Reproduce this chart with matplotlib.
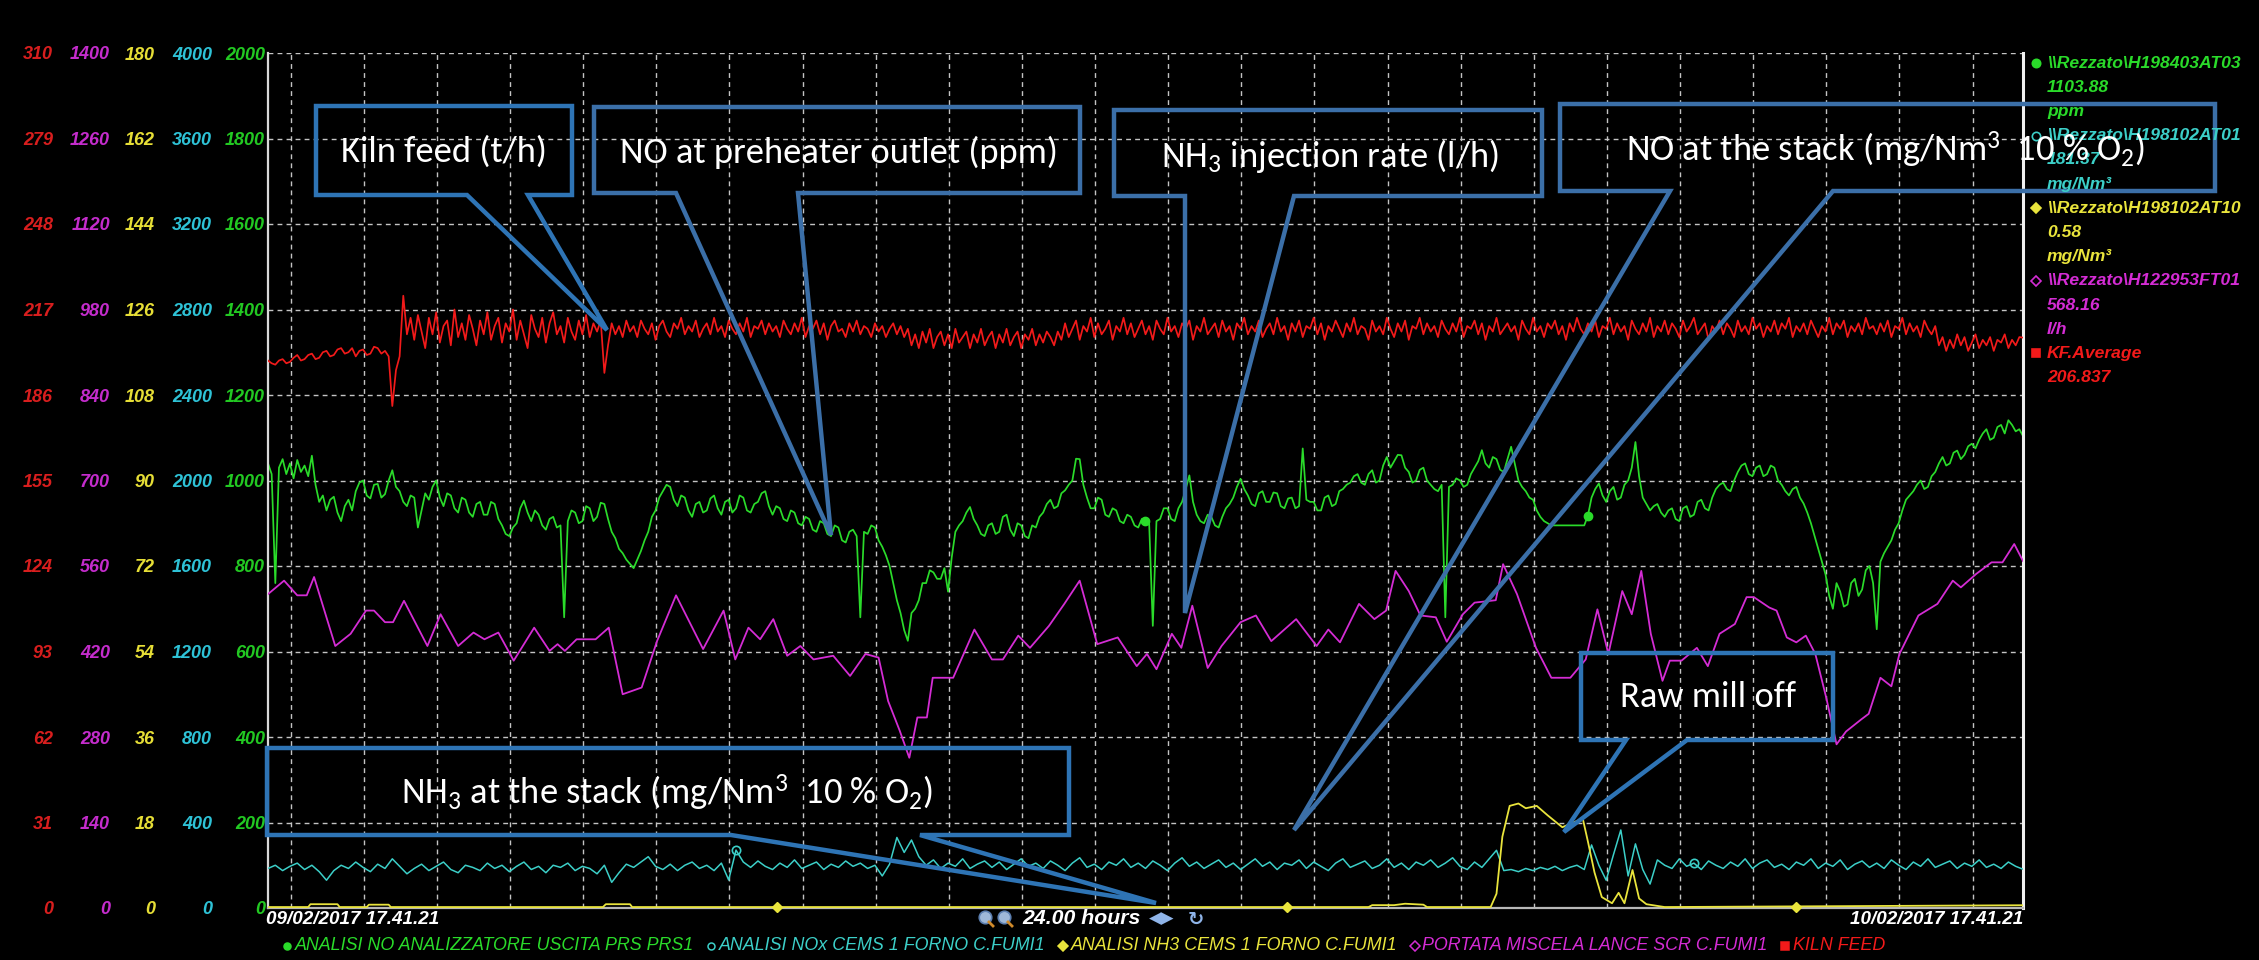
import numpy as np
import matplotlib
matplotlib.use('Agg')
import matplotlib.pyplot as plt
from matplotlib import font_manager
from matplotlib.patches import Polygon

# ---------------- data (hours after 09/02/2017 17.41.21) ----------------
hours = np.round(np.arange(0, 241) * 0.1, 1)        # 6-minute samples
hours_fine = np.round(np.arange(0, 481) * 0.05, 2)  # 3-minute samples

# NO at preheater outlet (ppm), 3-min samples, one row per hour
no_ppm = [
    1040, 1015, 760, 1030, 1050, 1015, 1040, 1005, 1048, 1020, 1035, 1010, 1058, 990, 950, 965, 930, 955, 962, 925,
    905, 940, 955, 930, 975, 995, 1000, 965, 958, 990, 992, 960, 968, 1000, 1024, 985, 975, 950, 940, 965,
    960, 890, 930, 970, 955, 985, 1000, 960, 940, 970, 965, 935, 925, 960, 955, 925, 915, 945, 950, 920,
    920, 950, 945, 910, 895, 875, 870, 890, 900, 935, 953, 925, 905, 930, 920, 895, 885, 910, 915, 890,
    895, 680, 905, 930, 925, 900, 905, 940, 935, 905, 915, 948, 945, 910, 880, 865, 840, 830, 815, 805,
    795, 815, 835, 860, 880, 915, 930, 960, 975, 990, 985, 955, 940, 965, 960, 930, 915, 945, 950, 925,
    930, 958, 965, 935, 920, 950, 955, 925, 935, 965, 960, 930, 925, 945, 950, 970, 975, 940, 920, 940,
    935, 910, 905, 930, 925, 900, 895, 915, 910, 885, 880, 905, 900, 875, 870, 895, 890, 860, 855, 880,
    885, 870, 680, 880, 875, 895, 890, 860, 845, 825, 800, 760, 720, 690, 650, 625, 690, 700, 720, 760,
    760, 790, 785, 770, 770, 795, 740, 820, 880, 895, 905, 925, 938, 910, 895, 875, 870, 895, 900, 875,
    880, 915, 920, 885, 870, 900, 895, 870, 865, 895, 890, 915, 925, 945, 955, 935, 940, 970, 977, 990,
    1000, 1051, 1050, 990, 960, 935, 935, 960, 955, 920, 915, 935, 930, 905, 900, 920, 915, 895, 890, 910,
    905, 900, 660, 905, 910, 935, 935, 910, 905, 935, 950, 980, 1012, 950, 920, 905, 900, 920, 915, 895,
    890, 915, 935, 945, 960, 985, 1004, 980, 965, 945, 940, 970, 975, 950, 950, 972, 970, 940, 935, 958,
    960, 935, 940, 1075, 955, 950, 950, 930, 930, 960, 965, 940, 945, 975, 980, 990, 995, 1010, 1015, 995,
    990, 1015, 1024, 995, 1000, 1035, 1055, 1030, 1045, 1060, 1059, 1030, 1020, 995, 1000, 1025, 1030, 1000, 990, 980,
    975, 990, 680, 985, 990, 1005, 1000, 985, 990, 1015, 1030, 1045, 1071, 1040, 1030, 1055, 1050, 1025, 1020, 1050,
    1079, 1040, 1000, 985, 975, 960, 955, 930, 915, 905, 900, 895, 895, 895, 895, 895, 895, 895, 895, 895,
    895, 918, 960, 980, 993, 965, 950, 975, 985, 955, 960, 990, 1000, 1030, 1090, 1010, 960, 945, 930, 940,
    945, 925, 915, 930, 935, 910, 905, 935, 940, 915, 920, 950, 955, 935, 930, 960, 980, 990, 995, 980,
    975, 1000, 1020, 1035, 1040, 1015, 1010, 1030, 1035, 1010, 1015, 1035, 1030, 1000, 990, 975, 965, 980, 985, 960,
    946, 925, 900, 870, 840, 810, 780, 730, 700, 760, 740, 705, 710, 760, 770, 730, 745, 790, 800, 760,
    652, 810, 830, 845, 860, 885, 900, 930, 955, 965, 975, 990, 1000, 980, 985, 1010, 1020, 1040, 1055, 1035,
    1040, 1065, 1070, 1050, 1060, 1080, 1086, 1075, 1095, 1110, 1120, 1095, 1100, 1125, 1130, 1110, 1141, 1130, 1115, 1120,
    1104]

# kiln feed (t/h), 3-min samples, one row per hour
kiln_feed = [
    198.5, 197.5, 197.0, 198.5, 199.0, 197.5, 198.0, 199.5, 200.5, 198.5, 199.0, 200.5, 201.0, 199.0, 199.5, 201.5, 202.0, 200.0, 200.5, 202.5,
    203.0, 201.0, 201.5, 203.0, 200.0, 202.0, 202.5, 200.5, 201.0, 203.5, 203.0, 201.0, 202.0, 200.0, 182.0, 195.0, 200.0, 222.0, 208.0, 214.0,
    206, 215, 209, 203, 214, 208, 216, 205, 211, 213, 204, 217, 207, 212, 206, 215, 210, 204, 213, 208,
    216, 206, 211, 214, 205, 212, 209, 217, 206, 213, 208, 203, 215, 210, 207, 214, 205, 212, 216, 208,
    211, 205, 214, 209, 206, 213, 208, 215, 207, 212, 209, 213, 194, 204, 212, 208, 211, 207, 213, 209,
    211, 207, 213, 210, 208, 212, 206, 211, 213, 209, 207, 212, 210, 214, 208, 211, 209, 213, 207, 210,
    212, 208, 214, 209, 211, 207, 213, 210, 208, 212, 209, 214, 207, 211, 210, 213, 208, 212, 209, 211,
    207, 213, 210, 208, 212, 209, 214, 207, 211, 210, 213, 208, 212, 206, 211, 213, 209, 210, 207, 212,
    209, 213, 208, 211, 210, 207, 212, 209, 211, 207, 210, 212, 208, 211, 207, 210, 204, 208, 203, 209,
    205, 210, 203, 207, 209, 204, 208, 203, 210, 205, 207, 209, 203, 208, 205, 210, 204, 207, 209, 203,
    208, 205, 210, 204, 207, 209, 203, 208, 206, 210, 204, 208, 205, 209, 207, 204, 209, 206, 212, 207,
    210, 213, 206, 211, 209, 214, 207, 212, 208, 210, 213, 206, 211, 209, 214, 208, 212, 207, 210, 213,
    208, 211, 206, 213, 210, 208, 214, 209, 211, 207, 212, 210, 213, 206, 211, 209, 214, 208, 210, 212,
    207, 213, 209, 211, 206, 212, 210, 214, 208, 211, 209, 213, 207, 210, 212, 208, 214, 209, 211, 206,
    212, 209, 213, 207, 211, 210, 214, 208, 212, 206, 211, 209, 213, 210, 207, 212, 209, 214, 208, 211,
    210, 206, 213, 209, 211, 208, 214, 210, 207, 212, 209, 213, 206, 211, 210, 214, 208, 212, 209, 211,
    207, 213, 210, 208, 212, 209, 214, 207, 211, 210, 213, 208, 212, 206, 211, 209, 214, 208, 210, 212,
    209, 211, 206, 213, 210, 208, 214, 209, 211, 207, 212, 210, 213, 208, 211, 206, 212, 209, 214, 210,
    208, 212, 209, 213, 207, 211, 210, 214, 208, 212, 209, 211, 206, 213, 210, 208, 212, 209, 214, 207,
    211, 209, 213, 208, 212, 210, 207, 213, 209, 211, 214, 208, 210, 212, 206, 211, 209, 213, 208, 212,
    210, 207, 213, 209, 211, 208, 214, 210, 212, 207, 211, 209, 213, 208, 212, 210, 214, 207, 211, 209,
    212, 208, 213, 210, 207, 211, 209, 214, 208, 212, 210, 213, 207, 211, 209, 212, 208, 214, 210, 211,
    208, 212, 209, 213, 207, 211, 210, 214, 208, 212, 209, 211, 207, 213, 210, 208, 211, 204, 207, 202,
    206, 203, 208, 204, 207, 202, 205, 208, 203, 206, 204, 207, 202, 206, 205, 208, 203, 206, 204, 207,
    206.8]

# NOx at the stack (mg/Nm3), 6-min samples, one row per hour
nox_stack = [
    185, 200, 175, 195, 210, 180, 200, 170, 130, 175,
    200, 185, 215, 190, 170, 205, 185, 230, 195, 160,
    185, 205, 175, 195, 215, 180, 165, 200, 190, 175,
    210, 185, 200, 170, 195, 215, 180, 195, 165, 200,
    190, 210, 175, 195, 185, 160, 200, 120, 165, 205,
    190, 215, 240, 195, 180, 205, 175, 200, 215, 185,
    200, 175, 210, 131, 271, 215, 190, 220, 195, 180,
    210, 190, 225, 185, 200, 215, 180, 205, 190, 220,
    195, 210, 185, 200, 150, 205, 330, 260, 318, 240,
    200, 225, 185, 210, 195, 230, 185, 205, 220, 190,
    215, 180, 205, 230, 195, 210, 185, 220, 200, 175,
    210, 235, 190, 205, 180, 215, 200, 230, 190, 210,
    185, 220, 200, 175, 210, 235, 195, 215, 185, 205,
    225, 190, 210, 180, 205, 230, 195, 215, 180, 210,
    200, 225, 185, 215, 195, 175, 210, 230, 190, 205,
    220, 185, 200, 230, 190, 210, 180, 215, 200, 225,
    190, 210, 235, 195, 180, 215, 190, 230, 270, 175,
    180, 170, 185, 175, 190, 180, 195, 175, 190, 200,
    180, 295, 200, 130, 250, 365, 150, 300, 180, 112,
    225, 200, 185, 230, 195, 210, 180, 220, 200, 185,
    215, 195, 230, 185, 210, 225, 190, 205, 180, 215,
    200, 230, 185, 210, 195, 225, 180, 205, 220, 190,
    210, 185, 225, 200, 180, 215, 195, 230, 190, 205,
    220, 185, 210, 195, 225, 190, 205, 185, 215, 195,
    181.37]

nh3_time = [0.0, 0.55, 0.58, 0.95, 0.98, 1.35, 1.38, 1.65, 1.68, 4.58,
            4.62, 4.95, 4.98, 15.05, 15.1, 15.4, 15.55, 15.8, 15.85, 16.72,
            16.8, 16.88, 16.98, 17.1, 17.2, 17.35, 17.5, 17.7, 17.85, 17.98,
            18.05, 18.14, 18.24, 18.38, 18.47, 18.55, 18.66, 18.75, 18.85, 19.1,
            24.0]
nh3_stack = [0.2, 0.2, 0.8, 0.8, 0.2, 0.2, 0.7, 0.7, 0.2, 0.2,
             0.8, 0.8, 0.2, 0.2, 0.6, 0.6, 0.9, 0.7, 0.2, 0.2,
             3.0, 15.0, 21.5, 22.0, 21.0, 21.5, 19.5, 17.0, 18.0, 18.8,
             14.0, 7.5, 2.3, 1.0, 3.2, 1.0, 8.0, 2.0, 0.8, 0.2,
             0.58]

lance_time = [0.00, 0.22, 0.40, 0.53, 0.63, 0.92, 1.13, 1.34, 1.45, 1.60,
              1.71, 1.86, 2.18, 2.36, 2.60, 2.81, 2.96, 3.15, 3.36, 3.64,
              3.85, 3.96, 4.06, 4.22, 4.48, 4.66, 4.85, 5.11, 5.32, 5.58,
              5.95, 6.23, 6.39, 6.57, 6.73, 6.91, 7.10, 7.28, 7.46, 7.73,
              7.96, 8.17, 8.35, 8.48, 8.64, 8.77, 8.88, 9.01, 9.09, 9.37,
              9.66, 9.90, 10.05, 10.26, 10.42, 10.68, 10.89, 11.10, 11.34, 11.62,
              11.88, 12.02, 12.15, 12.36, 12.49, 12.64, 12.85, 13.04, 13.30, 13.51,
              13.72, 14.06, 14.34, 14.50, 14.66, 14.92, 15.13, 15.29, 15.42, 15.60,
              15.76, 15.97, 16.12, 16.34, 16.50, 16.79, 16.89, 17.08, 17.34, 17.55,
              17.81, 18.02, 18.18, 18.33, 18.52, 18.65, 18.78, 18.91, 19.07, 19.17,
              19.33, 19.54, 19.69, 19.85, 20.06, 20.22, 20.32, 20.53, 20.63, 20.77,
              20.90, 21.03, 21.16, 21.31, 21.45, 21.58, 21.79, 21.89, 22.05, 22.20,
              22.31, 22.57, 22.83, 23.04, 23.15, 23.36, 23.57, 23.72, 23.88, 24.00]
lance_flow = [514, 536, 512, 512, 542, 429, 449, 487, 487, 468,
              468, 503, 429, 481, 429, 451, 440, 451, 405, 459,
              421, 432, 421, 440, 440, 459, 350, 361, 437, 512,
              424, 487, 407, 459, 440, 473, 413, 429, 407, 413,
              380, 416, 410, 339, 290, 246, 312, 312, 377, 377,
              456, 407, 407, 446, 426, 462, 498, 536, 432, 443,
              396, 416, 391, 449, 426, 495, 393, 429, 468, 479,
              437, 473, 429, 456, 435, 498, 473, 487, 552, 519,
              479, 476, 436, 481, 500, 504, 563, 514, 426, 377,
              377, 407, 489, 416, 519, 481, 552, 449, 372, 405,
              405, 426, 396, 449, 465, 509, 509, 492, 487, 443,
              435, 446, 416, 344, 268, 289, 309, 318, 377, 363,
              416, 479, 498, 536, 525, 547, 566, 566, 596, 568.16]

# marker positions shown on the traces
no_marker_t, no_marker_v = [12.0, 18.05], [905, 918]
nox_marker_t, nox_marker_v = [6.4, 19.5], [271, 210]
nh3_marker_t, nh3_marker_v = [6.96, 13.93, 20.89], [0.2, 0.2, 0.2]

# axis scales / ticks
no_ticks = [0, 200, 400, 600, 800, 1000, 1200, 1400, 1600, 1800, 2000]
nox_ticks = [0, 400, 800, 1200, 1600, 2000, 2400, 2800, 3200, 3600, 4000]
nh3_ticks = [0, 18, 36, 54, 72, 90, 108, 126, 144, 162, 180]
lance_ticks = [0, 140, 280, 420, 560, 700, 840, 980, 1120, 1260, 1400]
kf_ticks = [0, 31, 62, 93, 124, 155, 186, 217, 248, 279, 310]
hour_lines = [0.3108 + k for k in range(24)]   # whole hours (18.00, 19.00, ...)

legend_names = ['ANALISI NO ANALIZZATORE USCITA PRS PRS1',
                'ANALISI NOx CEMS 1 FORNO C.FUMI1',
                'ANALISI NH3 CEMS 1 FORNO C.FUMI1',
                'PORTATA MISCELA LANCE SCR C.FUMI1',
                'KILN FEED']
tag_lines = [['\\\\Rezzato\\H198403AT03', '1103.88', 'ppm'],
             ['\\\\Rezzato\\H198102AT01', '181.37', 'mg/Nm\u00b3'],
             ['\\\\Rezzato\\H198102AT10', '0.58', 'mg/Nm\u00b3'],
             ['\\\\Rezzato\\H122953FT01', '568.16', 'l/h'],
             ['KF.Average', '206.837']]

# ---------------- styling ----------------
GREEN = '#2ADB2A'
CYAN = '#3CCFC8'
YELLOW = '#E9E43C'
MAGENTA = '#D42CD4'
RED = '#F21A1A'
LAB_COL = {'kf': '#D81E1E', 'lance': '#C42CCC', 'nh3': '#E6DE36', 'nox': '#2EC2D6', 'no': '#22C822'}
BLUE = '#3B6FA8'

names = {f.name for f in font_manager.fontManager.ttflist}
def pick(*cands):
    for c in cands:
        if c in names:
            return c
    return 'DejaVu Sans'
ARIAL = pick('Liberation Sans', 'Arial', 'DejaVu Sans')
NARROW = pick('Liberation Sans Narrow', 'Arial Narrow', 'Liberation Sans')
CALL = pick('Carlito', 'Calibri', 'Lato', 'Open Sans')
plt.rcParams['mathtext.fontset'] = 'custom'
plt.rcParams['mathtext.rm'] = CALL
plt.rcParams['mathtext.it'] = CALL + ':italic'
plt.rcParams['mathtext.bf'] = CALL + ':bold'

W, H = 2259, 960
fig = plt.figure(figsize=(W / 100, H / 100), dpi=100, facecolor='black')
X0, X1, Y0, Y1 = 268, 2023, 53, 908
ax = fig.add_axes([X0 / W, 1 - Y1 / H, (X1 - X0) / W, (Y1 - Y0) / H])
ax.set_facecolor('black')
ax.set_xlim(0, 24)
ax.set_xticks(hour_lines)
ax.tick_params(axis='x', length=0, labelbottom=False)
ax.grid(True, color='#C4C4C4', linestyle=(0, (3.5, 3)), linewidth=1.0)
ax.spines['top'].set_visible(False)
ax.spines['left'].set_color('#D8D8D8'); ax.spines['left'].set_linewidth(1.6)
ax.spines['right'].set_color('#F0F0F0'); ax.spines['right'].set_linewidth(2.2)
ax.spines['bottom'].set_color('#B8B8B8'); ax.spines['bottom'].set_linewidth(1.6)

def label_axis(a, ticks, right_edge, color):
    a.set_yticks(ticks)
    a.set_yticklabels([str(t) for t in ticks], fontstyle='italic', fontweight='bold',
                      family=ARIAL, fontsize=13, color=color)
    a.yaxis.tick_left()
    a.tick_params(axis='y', length=0, pad=(X0 - right_edge) * 72 / 100)

ax.set_ylim(0, 2000)
label_axis(ax, no_ticks, 265, LAB_COL['no'])

def twin(ymax, ticks, right_edge, color):
    a = ax.twinx()
    a.set_ylim(0, ymax)
    for s in a.spines.values():
        s.set_visible(False)
    label_axis(a, ticks, right_edge, color)
    a.set_xlim(0, 24)
    return a

ax_nox = twin(4000, nox_ticks, 212, LAB_COL['nox'])
ax_nh3 = twin(180, nh3_ticks, 155, LAB_COL['nh3'])
ax_lance = twin(1400, lance_ticks, 110, LAB_COL['lance'])
ax_kf = twin(310, kf_ticks, 53, LAB_COL['kf'])

ax_nh3.plot(nh3_time, nh3_stack, color=YELLOW, lw=1.3)
ax_nh3.plot(nh3_marker_t, nh3_marker_v, 'D', color=YELLOW, ms=5, clip_on=False)
ax_nox.plot(hours, nox_stack, color=CYAN, lw=1.1)
ax_nox.plot(nox_marker_t, nox_marker_v, 'o', mfc='none', mec=CYAN, ms=6, mew=1.2)
ax_lance.plot(lance_time, lance_flow, color=MAGENTA, lw=1.3)
ax.plot(hours_fine, no_ppm, color=GREEN, lw=1.25)
ax.plot(no_marker_t, no_marker_v, 'o', color=GREEN, ms=6)
ax_kf.plot(hours_fine, kiln_feed, color=RED, lw=1.25)

# ---------------- overlay in pixel coordinates ----------------
ov = fig.add_axes([0, 0, 1, 1], zorder=20)
ov.set_xlim(0, W); ov.set_ylim(H, 0); ov.axis('off')
rend = fig.canvas.get_renderer()

def tw(t):
    return t.get_window_extent(renderer=rend).width

def fit(t, target):
    t.set_fontsize(t.get_fontsize() * target / tw(t))
    return t

# right-hand tag list
tag_style = [('o', GREEN, GREEN), ('o', 'none', CYAN), ('D', YELLOW, YELLOW),
             ('D', 'none', MAGENTA), ('s', RED, RED)]
tag_cols = [GREEN, CYAN, YELLOW, MAGENTA, RED]
probe = ov.text(0, -100, tag_lines[0][0], fontsize=11, fontweight='bold',
                fontstyle='italic', family=ARIAL)
tag_fs = fit(probe, 193).get_fontsize()
probe.remove()
y = 63
for (mk, fc, ec), col, lines in zip(tag_style, tag_cols, tag_lines):
    ov.plot([2036], [y], marker=mk, mfc=fc, mec=ec, ms=6 if mk != 'D' else 5.5, mew=1.2)
    for ln in lines:
        ov.text(2047, y, ln, color=col, fontsize=tag_fs, fontweight='bold',
                fontstyle='italic', family=ARIAL, va='center', ha='left')
        y += 24.2

# bottom legend
leg_texts = []
for name, col in zip(legend_names, tag_cols):
    leg_texts.append(ov.text(0, 946, name, color=col, fontsize=13, fontstyle='italic',
                             family=NARROW, va='center', ha='left'))
fixed = 5 * 13 + 4 * 12
tot = sum(tw(t) for t in leg_texts)
fs = 13 * (1885 - 282 - fixed) / tot
cur = 282
for (mk, fc, ec), t in zip(tag_style, leg_texts):
    t.set_fontsize(fs)
    ov.plot([cur + 5], [946], marker=mk, mfc=fc, mec=ec, ms=5 if mk != 's' else 5.5, mew=1.1)
    t.set_x(cur + 13)
    cur = cur + 13 + tw(t) + 12

# dates / time span
d0 = ov.text(266, 919, '09/02/2017 17.41.21', color='white', fontsize=13,
             fontweight='bold', fontstyle='italic', family=NARROW, va='center', ha='left')
fit(d0, 172)
d1 = ov.text(2023, 919, '10/02/2017 17.41.21', color='white', fontsize=13,
             fontweight='bold', fontstyle='italic', family=NARROW, va='center', ha='right')
fit(d1, 172)
hrs = ov.text(1022, 919, '24.00 hours', color='white', fontsize=13, fontweight='bold',
              fontstyle='italic', family=NARROW, va='center', ha='left')
fit(hrs, 118)
for xm in (985, 1004):
    ov.plot([xm], [917], 'o', ms=9, mfc='#9FB8D8', mec='#5C7FB0', mew=1.2)
    ov.plot([xm + 4, xm + 8], [922, 926], color='#D08A2A', lw=2)
ov.text(1162, 919, '\u25c0\u25b6', color='#8FB4E8', fontsize=12, family='DejaVu Sans',
        va='center', ha='center')
ov.text(1196, 919, '\u21bb', color='#8FB4E8', fontsize=14, fontweight='bold',
        family='DejaVu Sans', va='center', ha='center')

# callouts: (left, top, right, bottom, tail base left, tail base right, tip)
callouts = [
    ('Kiln feed (t/h)', (316, 106, 572, 195, 467, 528, (607, 330)), (444, 152), '#2E74B5'),
    ('NO at preheater outlet (ppm)', (594, 107, 1080, 193, 676, 798, (831, 535)), (839, 152), BLUE),
    ('NH$_3$ injection rate (l/h)', (1114, 110, 1542, 196, 1185, 1294, (1185, 613)), (1330, 156), BLUE),
    ('NO at the stack (mg/Nm$^3$  10 % O$_2$)', (1560, 104, 2215, 191, 1670, 1833, (1294, 830)), (1886, 149), BLUE),
    ('NH$_3$ at the stack (mg/Nm$^3$  10 % O$_2$)', (267, 748, 1069, 835, 731, 920, (1156, 903)), (667, 792), '#2E74B5'),
    ('Raw mill off', (1581, 653, 1833, 740, 1626, 1687, (1564, 832)), (1708, 697), '#2E74B5'),
]
probe = ov.text(0, -100, 'NO at preheater outlet (ppm)', fontsize=22, family=CALL)
call_fs = fit(probe, 438).get_fontsize()
probe.remove()
for txt, (l, t, r, b, bl, br, tip), (tx, ty), col in callouts:
    poly = Polygon([(l, t), (r, t), (r, b), (br, b), tip, (bl, b), (l, b)], closed=True,
                   fill=False, edgecolor=col, linewidth=3.2, joinstyle='miter')
    ov.add_patch(poly)
    ov.text(tx, ty, txt, color='white', fontsize=call_fs, family=CALL,
            va='center', ha='center')

fig.savefig('out.png', dpi=100, facecolor='black')
